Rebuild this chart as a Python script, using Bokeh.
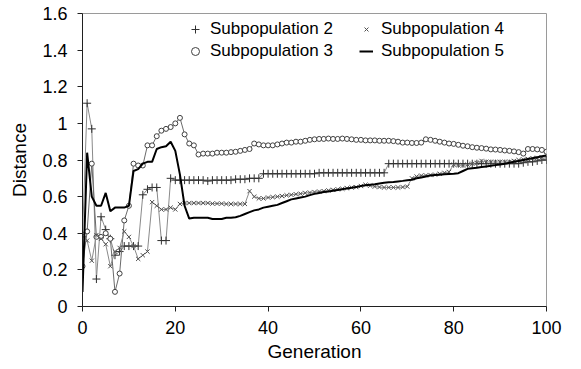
from bokeh.plotting import figure
from bokeh.models import Range1d, FixedTicker, Legend, LegendItem
from bokeh.embed import file_html
from bokeh.resources import INLINE

generation = list(range(101))

sub2 = [0.38, 1.11, 0.97, 0.15, 0.49, 0.42, 0.37, 0.28, 0.30, 0.33,
        0.33, 0.33, 0.33, 0.61, 0.64, 0.65, 0.65, 0.36, 0.36, 0.70,
        0.69, 0.69, 0.69, 0.69, 0.69, 0.69, 0.69, 0.685, 0.69, 0.69,
        0.69, 0.69, 0.69, 0.695, 0.695, 0.695, 0.70, 0.70, 0.70, 0.725,
        0.725, 0.725, 0.725, 0.725, 0.725, 0.725, 0.725, 0.725, 0.725, 0.725,
        0.725, 0.73, 0.73, 0.73, 0.73, 0.73, 0.73, 0.73, 0.73, 0.73,
        0.73, 0.73, 0.73, 0.73, 0.73, 0.73, 0.78, 0.78, 0.78, 0.78,
        0.78, 0.78, 0.78, 0.78, 0.78, 0.78, 0.78, 0.78, 0.78, 0.78,
        0.78, 0.78, 0.78, 0.78, 0.78, 0.78, 0.78, 0.78, 0.78, 0.78,
        0.78, 0.78, 0.78, 0.78, 0.78, 0.785, 0.79, 0.79, 0.795, 0.80,
        0.80]

sub3 = [0.22, 0.41, 0.78, 0.38, 0.38, 0.40, 0.37, 0.08, 0.18, 0.47,
        0.55, 0.78, 0.77, 0.77, 0.88, 0.88, 0.93, 0.96, 0.97, 0.98,
        1.00, 1.03, 0.94, 0.89, 0.88, 0.83, 0.835, 0.835, 0.835, 0.84,
        0.84, 0.84, 0.843, 0.845, 0.85, 0.855, 0.86, 0.89, 0.885, 0.88,
        0.88, 0.88, 0.885, 0.89, 0.895, 0.895, 0.90, 0.90, 0.905, 0.91,
        0.913, 0.915, 0.915, 0.917, 0.915, 0.915, 0.917, 0.915, 0.913, 0.91,
        0.91, 0.907, 0.907, 0.907, 0.905, 0.905, 0.905, 0.903, 0.90, 0.895,
        0.895, 0.893, 0.893, 0.895, 0.913, 0.91, 0.905, 0.90, 0.895, 0.89,
        0.888, 0.883, 0.878, 0.875, 0.87, 0.867, 0.865, 0.862, 0.858, 0.857,
        0.855, 0.852, 0.85, 0.847, 0.843, 0.835, 0.86, 0.86, 0.858, 0.855,
        0.845]

sub4 = [0.40, 0.36, 0.25, 0.39, 0.37, 0.34, 0.22, 0.30, 0.32, 0.41,
        0.38, 0.33, 0.26, 0.28, 0.30, 0.57, 0.55, 0.53, 0.53, 0.54,
        0.53, 0.56, 0.565, 0.565, 0.565, 0.565, 0.565, 0.565, 0.562, 0.562,
        0.562, 0.56, 0.56, 0.56, 0.56, 0.56, 0.63, 0.60, 0.59, 0.59,
        0.595, 0.597, 0.60, 0.603, 0.607, 0.61, 0.613, 0.616, 0.62, 0.622,
        0.625, 0.628, 0.63, 0.634, 0.637, 0.64, 0.643, 0.646, 0.65, 0.652,
        0.658, 0.665, 0.66, 0.655, 0.652, 0.65, 0.65, 0.65, 0.65, 0.652,
        0.655, 0.70, 0.71, 0.715, 0.716, 0.718, 0.72, 0.725, 0.73, 0.735,
        0.775, 0.772, 0.77, 0.775, 0.78, 0.785, 0.795, 0.79, 0.789, 0.789,
        0.789, 0.789, 0.79, 0.795, 0.80, 0.803, 0.806, 0.81, 0.812, 0.815,
        0.816]

sub5 = [0.08, 0.84, 0.60, 0.55, 0.55, 0.62, 0.52, 0.54, 0.54, 0.54,
        0.55, 0.74, 0.75, 0.78, 0.79, 0.79, 0.86, 0.87, 0.875, 0.90,
        0.85, 0.72, 0.55, 0.48, 0.485, 0.485, 0.485, 0.485, 0.478, 0.478,
        0.478, 0.485, 0.485, 0.487, 0.495, 0.505, 0.515, 0.525, 0.53, 0.54,
        0.545, 0.55, 0.555, 0.565, 0.575, 0.585, 0.59, 0.595, 0.60, 0.608,
        0.615, 0.62, 0.625, 0.628, 0.632, 0.636, 0.64, 0.645, 0.648, 0.652,
        0.658, 0.662, 0.665, 0.668, 0.672, 0.676, 0.678, 0.68, 0.683, 0.686,
        0.69, 0.692, 0.70, 0.705, 0.71, 0.716, 0.718, 0.72, 0.722, 0.724,
        0.725, 0.728, 0.74, 0.752, 0.755, 0.758, 0.762, 0.765, 0.768, 0.772,
        0.776, 0.78, 0.785, 0.79, 0.795, 0.80, 0.805, 0.81, 0.815, 0.82,
        0.825]

x_ticks = [0, 20, 40, 60, 80, 100]
y_ticks = [0, 0.2, 0.4, 0.6, 0.8, 1.0, 1.2, 1.4, 1.6]
y_tick_labels = ["0", "0.2", "0.4", "0.6", "0.8", "1", "1.2", "1.4", "1.6"]

FONT = "Liberation Sans"

p = figure(width=581, height=369, output_backend="svg", toolbar_location=None,
           x_range=Range1d(0, 100), y_range=Range1d(0, 1.6),
           min_border_left=82, min_border_right=35,
           min_border_top=13, min_border_bottom=63)

p.background_fill_color = "white"
p.border_fill_color = "white"
p.outline_line_color = "#9a9a9a"
p.outline_line_width = 1
p.xgrid.visible = False
p.ygrid.visible = False

for ax in (p.xaxis[0], p.yaxis[0]):
    ax.axis_line_color = "#202020"
    ax.major_tick_line_color = "#202020"
    ax.major_tick_in = 0
    ax.major_tick_out = 5
    ax.minor_tick_line_color = None
    ax.major_label_text_font = FONT
    ax.major_label_text_font_size = "18px"
    ax.major_label_text_color = "black"
    ax.axis_label_text_font = FONT
    ax.axis_label_text_font_size = "19px"
    ax.axis_label_text_font_style = "normal"
    ax.axis_label_text_color = "black"

p.xaxis.ticker = FixedTicker(ticks=x_ticks)
p.yaxis.ticker = FixedTicker(ticks=y_ticks)
p.yaxis.major_label_overrides = {t: l for t, l in zip(y_ticks, y_tick_labels)}
p.xaxis.axis_label = "Generation"
p.yaxis.axis_label = "Distance"
p.xaxis.major_label_standoff = 9
p.xaxis.axis_label_standoff = 4
p.yaxis.major_label_standoff = 10
p.yaxis.axis_label_standoff = 9

# Subpopulation 2
p.line(generation, sub2, line_color="#8a8a8a", line_width=1)
r2 = p.scatter(generation, sub2, marker="cross", size=8, line_color="#303030", line_width=1)
# Subpopulation 3
p.line(generation, sub3, line_color="#6a6a6a", line_width=1)
r3 = p.scatter(generation, sub3, marker="circle", size=5, line_color="#404040",
               fill_color="white", line_width=1)
# Subpopulation 4
p.line(generation, sub4, line_color="#8a8a8a", line_width=1)
r4 = p.scatter(generation, sub4, marker="x", size=6, line_color="#505050", line_width=1)
# Subpopulation 5
r5 = p.line(generation, sub5, line_color="black", line_width=2)

common = dict(padding=0, margin=0, spacing=2, border_line_alpha=0,
              background_fill_alpha=0, glyph_height=20,
              label_height=20, label_text_font=FONT, label_text_font_size="17px",
              label_text_color="black")
leg1 = Legend(items=[LegendItem(label="Subpopulation 2", renderers=[r2]),
                     LegendItem(label="Subpopulation 3", renderers=[r3])],
              location=(103, 245), glyph_width=20, label_standoff=5, **common)
leg2 = Legend(items=[LegendItem(label="Subpopulation 4", renderers=[r4]),
                     LegendItem(label="Subpopulation 5", renderers=[r5])],
              location=(277, 245), glyph_width=14, label_standoff=8, **common)
p.add_layout(leg1)
p.add_layout(leg2)

open("out.html", "w").write(file_html(p, INLINE))
